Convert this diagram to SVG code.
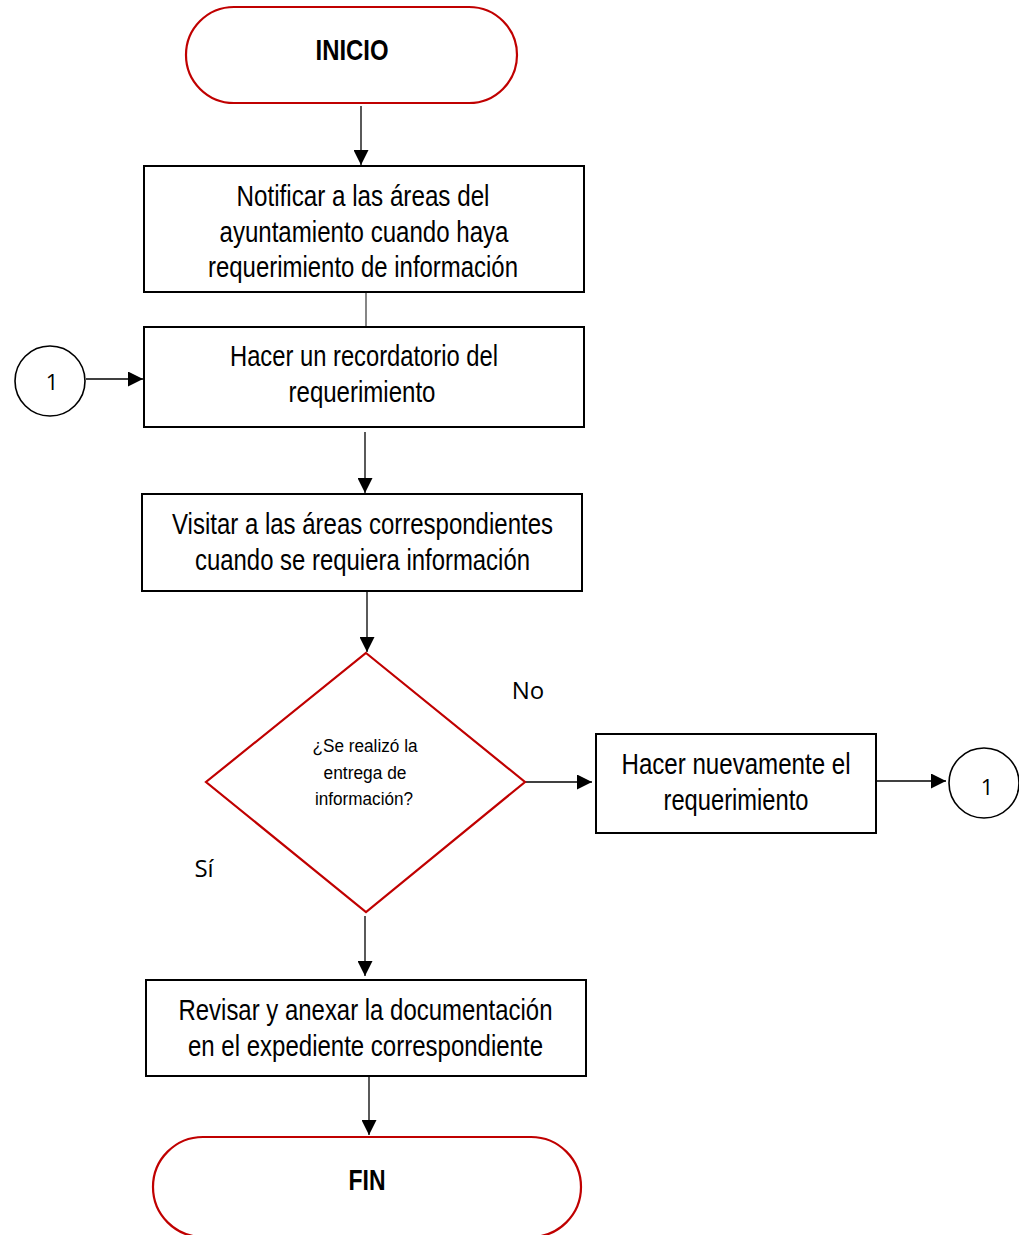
<svg xmlns="http://www.w3.org/2000/svg" width="1019" height="1235" viewBox="0 0 1019 1235">
  <defs>
    <marker id="arrowhead" viewBox="0 0 15 15" refX="15" refY="7.5" markerWidth="15" markerHeight="15" markerUnits="userSpaceOnUse" orient="auto">
      <path d="M0,0 L15,7.5 L0,15 z" fill="#000"/>
    </marker>
  </defs>
  <style>
    .term { fill: #fff; stroke: #C00000; stroke-width: 2.2; }
    .box { fill: #fff; stroke: #000; stroke-width: 2; }
    .dec { fill: #fff; stroke: #C00000; stroke-width: 2.2; }
    .conn { fill: #fff; stroke: #000; stroke-width: 1.6; }
    .edge { fill: none; stroke: #000; stroke-width: 1.3; }
    .plain { fill: none; stroke: #444; stroke-width: 1.3; }
    .t { font-family: "Liberation Sans Narrow", "Arial Narrow", "Liberation Sans", sans-serif; font-size: 29px; fill: #000; text-anchor: middle; }
    .tb { font-family: "Liberation Sans Narrow", "Arial Narrow", "Liberation Sans", sans-serif; font-size: 30px; font-weight: bold; fill: #000; text-anchor: middle; }
    .ts { font-family: "Liberation Sans Narrow", "Arial Narrow", "Liberation Sans", sans-serif; font-size: 17.5px; fill: #000; text-anchor: middle; }
    .lbl { font-family: "Open Sans", "Liberation Sans", sans-serif; font-size: 24px; fill: #000; text-anchor: middle; }
    .num { font-family: "Open Sans", "Liberation Sans", sans-serif; font-size: 22px; fill: #000; text-anchor: middle; }
  </style>

  <g id="connectors">
    <line class="edge" x1="361" y1="106" x2="361" y2="165" marker-end="url(#arrowhead)"/>
    <line class="plain" x1="366" y1="292" x2="366" y2="327"/>
    <line class="edge" x1="86" y1="379" x2="143" y2="379" marker-end="url(#arrowhead)"/>
    <line class="edge" x1="365" y1="432" x2="365" y2="493" marker-end="url(#arrowhead)"/>
    <line class="edge" x1="367" y1="591" x2="367" y2="652" marker-end="url(#arrowhead)"/>
    <line class="edge" x1="525" y1="782" x2="592" y2="782" marker-end="url(#arrowhead)"/>
    <line class="edge" x1="877" y1="781" x2="946" y2="781" marker-end="url(#arrowhead)"/>
    <line class="edge" x1="365" y1="916" x2="365" y2="976" marker-end="url(#arrowhead)"/>
    <line class="edge" x1="369" y1="1076" x2="369" y2="1135" marker-end="url(#arrowhead)"/>
  </g>

  <g id="inicio">
    <rect class="term" x="186" y="7" width="331" height="96" rx="48" ry="48"/>
    <text class="tb" x="352" y="60" textLength="73" lengthAdjust="spacingAndGlyphs">INICIO</text>
  </g>

  <g id="notificar">
    <rect class="box" x="144" y="166" width="440" height="126"/>
    <text class="t" x="363" y="206" textLength="253" lengthAdjust="spacingAndGlyphs">Notificar a las áreas del</text>
    <text class="t" x="364" y="241.5" textLength="289" lengthAdjust="spacingAndGlyphs">ayuntamiento cuando haya</text>
    <text class="t" x="363" y="277" textLength="310" lengthAdjust="spacingAndGlyphs">requerimiento de información</text>
  </g>

  <g id="recordatorio">
    <rect class="box" x="144" y="327" width="440" height="100"/>
    <text class="t" x="364" y="366" textLength="268" lengthAdjust="spacingAndGlyphs">Hacer un recordatorio del</text>
    <text class="t" x="362" y="401.5" textLength="147" lengthAdjust="spacingAndGlyphs">requerimiento</text>
  </g>

  <g id="conector-entrada">
    <circle class="conn" cx="50" cy="381" r="35"/>
    <text class="num" x="52" y="390">1</text>
  </g>

  <g id="visitar">
    <rect class="box" x="142" y="494" width="440" height="97"/>
    <text class="t" x="362.5" y="534" textLength="381" lengthAdjust="spacingAndGlyphs">Visitar a las áreas correspondientes</text>
    <text class="t" x="362.5" y="569.5" textLength="335" lengthAdjust="spacingAndGlyphs">cuando se requiera información</text>
  </g>

  <g id="decision">
    <polygon class="dec" points="366,653 525,782 366,912 206,782"/>
    <text class="ts" x="365" y="752" textLength="105" lengthAdjust="spacingAndGlyphs">¿Se realizó la</text>
    <text class="ts" x="365" y="778.5" textLength="83" lengthAdjust="spacingAndGlyphs">entrega de</text>
    <text class="ts" x="364" y="805" textLength="98" lengthAdjust="spacingAndGlyphs">información?</text>
  </g>

  <g id="etiquetas">
    <text class="lbl" x="528" y="699">No</text>
    <text class="lbl" x="204" y="877">Sí</text>
  </g>

  <g id="hacer-nuevamente">
    <rect class="box" x="596" y="734" width="280" height="99"/>
    <text class="t" x="736" y="774" textLength="229" lengthAdjust="spacingAndGlyphs">Hacer nuevamente el</text>
    <text class="t" x="736" y="809.5" textLength="145" lengthAdjust="spacingAndGlyphs">requerimiento</text>
  </g>

  <g id="conector-salida">
    <circle class="conn" cx="984" cy="783" r="35"/>
    <text class="num" x="987" y="795">1</text>
  </g>

  <g id="revisar">
    <rect class="box" x="146" y="980" width="440" height="96"/>
    <text class="t" x="365.5" y="1020" textLength="374" lengthAdjust="spacingAndGlyphs">Revisar y anexar la documentación</text>
    <text class="t" x="365.5" y="1055.5" textLength="355" lengthAdjust="spacingAndGlyphs">en el expediente correspondiente</text>
  </g>

  <g id="fin">
    <rect class="term" x="153" y="1137" width="428" height="100" rx="50" ry="50"/>
    <text class="tb" x="367" y="1190" textLength="37" lengthAdjust="spacingAndGlyphs">FIN</text>
  </g>
</svg>
